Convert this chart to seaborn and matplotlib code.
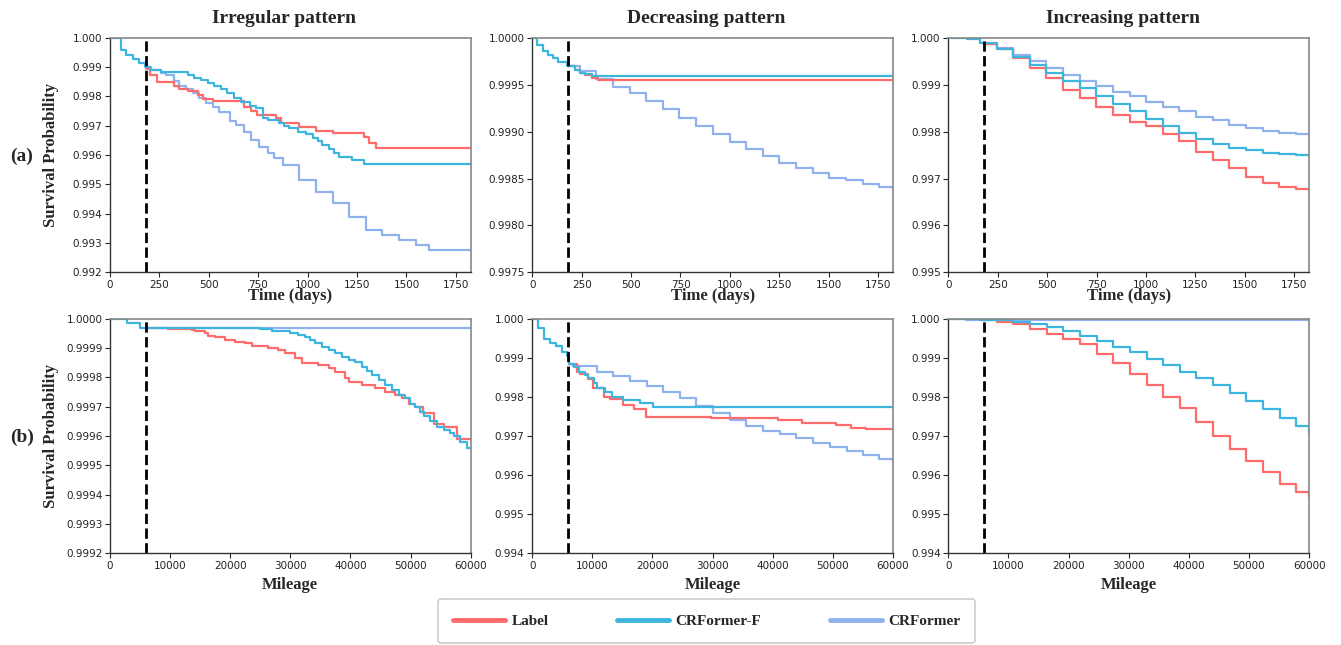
import pandas as pd
import matplotlib
matplotlib.use("Agg")
import matplotlib.pyplot as plt
import seaborn as sns
from matplotlib.lines import Line2D
from matplotlib.ticker import FormatStrFormatter

# Series names and colours
models = ['Label', 'CRFormer-F', 'CRFormer']
draw_order = ['CRFormer', 'Label', 'CRFormer-F']
colors = {'Label': '#FF6B6B', 'CRFormer-F': '#3CB6DF', 'CRFormer': '#8FB1EE'}

# Column titles, row tags, axis labels
col_titles = ['Irregular pattern', 'Decreasing pattern', 'Increasing pattern']
row_tags = ['(a)', '(b)']
time_label = 'Time (days)'
mileage_label = 'Mileage'
ylabel = 'Survival Probability'

# Cut-off of the observed history (dashed line)
cutoff_time = 180
cutoff_mileage = 6000

# Tick values
time_xticks = [0, 250, 500, 750, 1000, 1250, 1500, 1750]
mileage_xticks = [0, 10000, 20000, 30000, 40000, 50000, 60000]
irr_t_yticks = [0.992, 0.993, 0.994, 0.995, 0.996, 0.997, 0.998, 0.999, 1.000]
dec_t_yticks = [0.9975, 0.9980, 0.9985, 0.9990, 0.9995, 1.0000]
inc_t_yticks = [0.995, 0.996, 0.997, 0.998, 0.999, 1.000]
irr_m_yticks = [0.9992, 0.9993, 0.9994, 0.9995, 0.9996, 0.9997, 0.9998, 0.9999, 1.0000]
dec_m_yticks = [0.994, 0.995, 0.996, 0.997, 0.998, 0.999, 1.000]
inc_m_yticks = [0.994, 0.995, 0.996, 0.997, 0.998, 0.999, 1.000]

# ---- (a) Irregular pattern, time ----
irr_t_label_x = [180, 205, 238, 326, 351, 393, 443, 470, 519, 680, 715, 746, 841, 867, 957, 1043,
                 1130, 1285, 1310, 1345, 1825]
irr_t_label_y = [0.99895, 0.99874, 0.99848, 0.99835, 0.99826, 0.99818, 0.99806, 0.99790, 0.99783,
                 0.99763, 0.99750, 0.99736, 0.99725, 0.99710, 0.99697, 0.99682, 0.99676, 0.99662,
                 0.99642, 0.99623, 0.99623]
irr_t_crff_x = [0, 54, 82, 115, 148, 175, 205, 260, 393, 427, 460, 494, 527, 561, 594, 628, 662, 710,
                740, 773, 798, 857, 882, 907, 949, 991, 1025, 1050, 1075, 1108, 1134, 1159, 1226,
                1285, 1825]
irr_t_crff_y = [1.0, 0.99960, 0.99943, 0.99928, 0.99915, 0.99901, 0.99892, 0.99883, 0.99872, 0.99864,
                0.99856, 0.99847, 0.99835, 0.99824, 0.99812, 0.99795, 0.99782, 0.99767, 0.99760,
                0.99725, 0.99719, 0.99708, 0.99699, 0.99691, 0.99680, 0.99672, 0.99660, 0.99649,
                0.99634, 0.99620, 0.99606, 0.99592, 0.99583, 0.99569, 0.99569]
irr_t_crf_x = [180, 208, 259, 284, 326, 351, 385, 418, 452, 485, 519, 553, 605, 638, 680, 714, 756,
               798, 831, 874, 958, 1042, 1126, 1210, 1294, 1378, 1462, 1546, 1613, 1825]
irr_t_crf_y = [0.99901, 0.99892, 0.99881, 0.99872, 0.99852, 0.99835, 0.99824, 0.99812, 0.99796,
               0.99779, 0.99765, 0.99747, 0.99716, 0.99702, 0.99680, 0.99651, 0.99626, 0.99606,
               0.99589, 0.99565, 0.99515, 0.99475, 0.99435, 0.99390, 0.99344, 0.99327, 0.99310,
               0.99293, 0.99276, 0.99276]

# ---- (a) Decreasing pattern, time ----
dec_t_label_x = [180, 216, 241, 266, 300, 333, 1825]
dec_t_label_y = [0.99970, 0.99966, 0.99963, 0.99960, 0.99957, 0.99955, 0.99955]
dec_t_crff_x = [0, 25, 52, 81, 106, 131, 174, 216, 241, 266, 300, 1825]
dec_t_crff_y = [1.0, 0.99992, 0.99986, 0.99982, 0.99978, 0.99974, 0.99970, 0.99966, 0.99963,
                0.99961, 0.99959, 0.99959]
dec_t_crf_x = [180, 241, 325, 409, 493, 577, 661, 745, 829, 914, 998, 1082, 1166, 1250, 1334, 1418,
               1502, 1586, 1671, 1755, 1825]
dec_t_crf_y = [0.99970, 0.99965, 0.99956, 0.99948, 0.99941, 0.99933, 0.99924, 0.99915, 0.99906,
               0.99898, 0.99889, 0.99881, 0.99874, 0.99867, 0.99861, 0.99856, 0.99851, 0.99848,
               0.99844, 0.99841, 0.99838]

# ---- (a) Increasing pattern, time ----
inc_t_label_x = [180, 244, 328, 412, 496, 580, 665, 749, 833, 917, 1001, 1085, 1169, 1253, 1337,
                 1422, 1506, 1590, 1674, 1758, 1825]
inc_t_label_y = [0.99986, 0.99976, 0.99957, 0.99935, 0.99914, 0.99889, 0.99871, 0.99853, 0.99835,
                 0.99821, 0.99811, 0.99796, 0.99779, 0.99757, 0.99740, 0.99722, 0.99704, 0.99691,
                 0.99683, 0.99677, 0.99674]
inc_t_crff_x = [0, 93, 160, 244, 328, 412, 496, 580, 665, 749, 833, 917, 1001, 1085, 1169, 1253,
                1337, 1422, 1506, 1590, 1674, 1758, 1825]
inc_t_crff_y = [1.0, 0.99997, 0.99990, 0.99976, 0.99960, 0.99942, 0.99926, 0.99909, 0.99893,
                0.99875, 0.99859, 0.99843, 0.99826, 0.99811, 0.99797, 0.99784, 0.99774, 0.99766,
                0.99760, 0.99755, 0.99752, 0.99750, 0.99749]
inc_t_crf_x = [180, 244, 328, 412, 496, 580, 665, 749, 833, 917, 1001, 1085, 1169, 1253, 1337, 1422,
               1506, 1590, 1674, 1758, 1825]
inc_t_crf_y = [0.99987, 0.99978, 0.99964, 0.99950, 0.99935, 0.99921, 0.99909, 0.99898, 0.99885,
               0.99875, 0.99864, 0.99853, 0.99843, 0.99832, 0.99824, 0.99814, 0.99807, 0.99802,
               0.99798, 0.99795, 0.99793]

# ---- (b) Irregular pattern, mileage ----
irr_m_label_x = [6000, 9700, 13590, 14150, 15810, 16370, 17480, 19140, 20810, 22470, 23580, 26360,
                 28020, 29130, 30800, 31910, 34680, 36350, 37460, 39120, 39680, 41900, 44120, 45780,
                 47450, 48560, 49660, 50770, 52000, 53900, 55600, 57800, 60000]
irr_m_label_y = [0.99997, 0.999965, 0.999962, 0.999957, 0.999951, 0.999942, 0.999937, 0.999928,
                 0.999922, 0.999917, 0.999908, 0.9999, 0.999892, 0.999883, 0.999866, 0.999848,
                 0.999843, 0.999831, 0.99982, 0.999797, 0.999786, 0.999774, 0.999763, 0.999751,
                 0.99974, 0.999729, 0.999711, 0.9997, 0.99968, 0.99964, 0.99963, 0.99959, 0.99959]
irr_m_crff_x = [0, 2800, 5000, 24970, 26910, 28580, 29960, 31350, 32460, 33300, 34130, 35240, 36350,
                37460, 38570, 39680, 40790, 41900, 42730, 43560, 44670, 45780, 46890, 48000, 49110,
                49940, 50770, 51610, 52200, 53300, 54400, 55500, 56500, 57200, 58300, 59400, 60000]
irr_m_crff_y = [1.0, 0.999985, 0.99997, 0.999965, 0.99996, 0.999957, 0.999951, 0.999945, 0.999937,
                0.999928, 0.999917, 0.999903, 0.999894, 0.999883, 0.999869, 0.99986, 0.999851,
                0.999837, 0.999823, 0.999809, 0.999791, 0.999774, 0.999757, 0.99974, 0.999729,
                0.999711, 0.9997, 0.999683, 0.99967, 0.99965, 0.99963, 0.99962, 0.99961, 0.9996,
                0.99958, 0.99956, 0.99956]
irr_m_crf_x = [6000, 60000]
irr_m_crf_y = [0.99997, 0.99997]

# ---- (b) Decreasing pattern, mileage ----
dec_m_label_x = [6150, 7400, 8000, 9300, 10100, 12000, 13000, 15100, 16900, 19000, 29800, 40900,
                 44800, 50600, 53100, 55500, 60000]
dec_m_label_y = [0.99884, 0.99865, 0.99858, 0.99845, 0.99824, 0.99801, 0.99794, 0.99779, 0.99769,
                 0.99750, 0.99746, 0.99741, 0.99734, 0.99728, 0.99720, 0.99717, 0.99717]
dec_m_crff_x = [0, 900, 1900, 3000, 4000, 4900, 5700, 6150, 6900, 7700, 8800, 9300, 10200, 10700,
                12100, 13200, 15100, 17900, 20100, 60000]
dec_m_crff_y = [1.0, 0.99976, 0.99948, 0.99939, 0.99930, 0.99916, 0.99905, 0.99884, 0.99876,
                0.99865, 0.99856, 0.99848, 0.99835, 0.99822, 0.99812, 0.99801, 0.99792, 0.99784,
                0.99775, 0.99775]
dec_m_crf_x = [6150, 6820, 10700, 13470, 16240, 19010, 21780, 24550, 27320, 30090, 32860, 35630,
               38400, 41170, 43940, 46700, 49500, 52300, 55000, 57700, 60000]
dec_m_crf_y = [0.99884, 0.99880, 0.99865, 0.99854, 0.99840, 0.99827, 0.99814, 0.99797, 0.99777,
               0.99758, 0.99740, 0.99726, 0.99714, 0.99704, 0.99694, 0.99683, 0.99673, 0.99662,
               0.99652, 0.99642, 0.99633]

# ---- (b) Increasing pattern, mileage ----
inc_m_label_x = [6000, 8033, 10800, 13570, 16340, 19110, 21880, 24650, 27420, 30190, 32960, 35730,
                 38500, 41270, 44040, 46810, 49580, 52350, 55120, 57890, 60000]
inc_m_label_y = [0.99998, 0.99993, 0.99986, 0.99974, 0.99962, 0.99948, 0.99935, 0.99910, 0.99888,
                 0.99860, 0.99831, 0.99799, 0.99773, 0.99735, 0.99700, 0.99666, 0.99637, 0.99607,
                 0.99577, 0.99558, 0.99545]
inc_m_crff_x = [0, 5263, 8033, 10800, 13570, 16340, 19110, 21880, 24650, 27420, 30190, 32960, 35730,
                38500, 41270, 44040, 46810, 49580, 52350, 55120, 57890, 60000]
inc_m_crff_y = [1.0, 0.99998, 0.99997, 0.99993, 0.99988, 0.99980, 0.99969, 0.99956, 0.99944,
                0.99928, 0.99914, 0.99898, 0.99881, 0.99865, 0.99848, 0.99831, 0.99811, 0.99790,
                0.99769, 0.99747, 0.99726, 0.99707]
inc_m_crf_x = [0, 3000, 8000, 60000]
inc_m_crf_y = [1.0, 0.99998, 0.99996, 0.99995]

panels = [
    (0, 0, {'Label': (irr_t_label_x, irr_t_label_y), 'CRFormer-F': (irr_t_crff_x, irr_t_crff_y),
            'CRFormer': (irr_t_crf_x, irr_t_crf_y)}, irr_t_yticks, '%.3f', 'time'),
    (0, 1, {'Label': (dec_t_label_x, dec_t_label_y), 'CRFormer-F': (dec_t_crff_x, dec_t_crff_y),
            'CRFormer': (dec_t_crf_x, dec_t_crf_y)}, dec_t_yticks, '%.4f', 'time'),
    (0, 2, {'Label': (inc_t_label_x, inc_t_label_y), 'CRFormer-F': (inc_t_crff_x, inc_t_crff_y),
            'CRFormer': (inc_t_crf_x, inc_t_crf_y)}, inc_t_yticks, '%.3f', 'time'),
    (1, 0, {'Label': (irr_m_label_x, irr_m_label_y), 'CRFormer-F': (irr_m_crff_x, irr_m_crff_y),
            'CRFormer': (irr_m_crf_x, irr_m_crf_y)}, irr_m_yticks, '%.4f', 'mileage'),
    (1, 1, {'Label': (dec_m_label_x, dec_m_label_y), 'CRFormer-F': (dec_m_crff_x, dec_m_crff_y),
            'CRFormer': (dec_m_crf_x, dec_m_crf_y)}, dec_m_yticks, '%.3f', 'mileage'),
    (1, 2, {'Label': (inc_m_label_x, inc_m_label_y), 'CRFormer-F': (inc_m_crff_x, inc_m_crff_y),
            'CRFormer': (inc_m_crf_x, inc_m_crf_y)}, inc_m_yticks, '%.3f', 'mileage'),
]

sns.set_style("ticks")
plt.rcParams['font.family'] = ['DejaVu Sans']
serif_bold = dict(family='Liberation Serif', weight='bold')

fig = plt.figure(figsize=(13.41, 6.45), dpi=100)

lefts = [0.0820, 0.3969, 0.7072]
bottoms = [0.5778, 0.1422]
width, height = 0.2690, 0.3635

for row, col, series, yticks, yfmt, kind in panels:
    ax = fig.add_axes([lefts[col], bottoms[row], width, height])
    frames = [pd.DataFrame({'x': series[m][0], 'y': series[m][1], 'model': m}) for m in draw_order]
    df = pd.concat(frames, ignore_index=True)
    sns.lineplot(data=df, x='x', y='y', hue='model', hue_order=draw_order, palette=colors,
                 drawstyle='steps-post', estimator=None, sort=False, legend=False, lw=1.6, ax=ax)

    if kind == 'time':
        ax.axvline(cutoff_time, color='black', ls='--', lw=2)
        ax.set_xlim(0, 1825)
        ax.set_xticks(time_xticks)
        ax.set_xlabel(time_label, fontsize=12, **serif_bold)
        ax.xaxis.set_label_coords(0.5, -0.068)
    else:
        ax.axvline(cutoff_mileage, color='black', ls='--', lw=2)
        ax.set_xlim(0, 60000)
        ax.set_xticks(mileage_xticks)
        ax.set_xlabel(mileage_label, fontsize=12, **serif_bold)
        ax.xaxis.set_label_coords(0.5, -0.1)

    ax.set_ylim(yticks[0], yticks[-1])
    ax.set_yticks(yticks)
    ax.yaxis.set_major_formatter(FormatStrFormatter(yfmt))
    ax.tick_params(labelsize=7.5, labelcolor='#222222', length=3.5, width=0.8, pad=2)

    if col == 0:
        ax.set_ylabel(ylabel, fontsize=12, **serif_bold)
        ax.yaxis.set_label_coords(-0.14, 0.5)
    else:
        ax.set_ylabel('')

    if row == 0:
        ax.set_title(col_titles[col], fontsize=14, pad=11, x=0.483, **serif_bold)

    for side in ['left', 'bottom']:
        ax.spines[side].set_color('#333333')
        ax.spines[side].set_linewidth(1.0)
    for side in ['top', 'right']:
        ax.spines[side].set_color('#888888')
        ax.spines[side].set_linewidth(1.2)

fig.text(0.0164, 0.758, row_tags[0], fontsize=14, ha='center', va='center', **serif_bold)
fig.text(0.0164, 0.322, row_tags[1], fontsize=14, ha='center', va='center', **serif_bold)

handles = [Line2D([0], [0], color=colors[m], lw=3.5) for m in models]
leg = fig.legend(handles, models, loc='lower center', bbox_to_anchor=(0.527, 0.0), ncol=3,
                 frameon=True, fancybox=True, framealpha=1, edgecolor='#cccccc',
                 prop=dict(family='Liberation Serif', weight='bold', size=11),
                 handlelength=3.4, handletextpad=0.4, columnspacing=4.5, borderpad=1.0,
                 borderaxespad=0.1)
leg.get_frame().set_linewidth(1.2)

fig.savefig("out.png", dpi=100)
